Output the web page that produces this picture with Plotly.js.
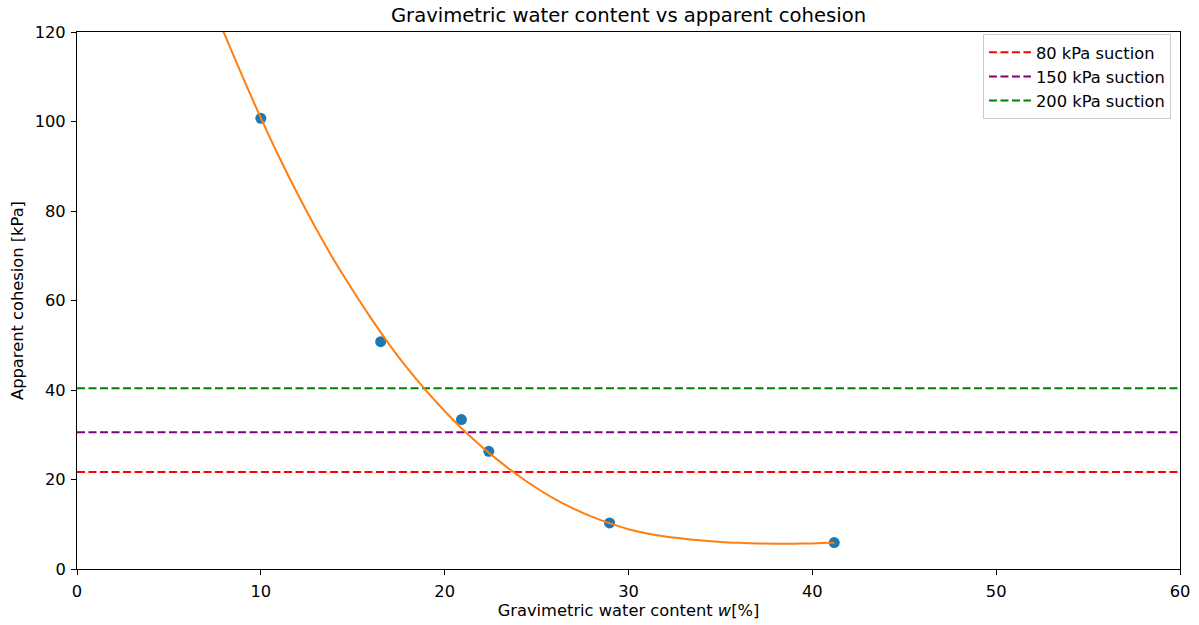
<!DOCTYPE html>
<html>
<head>
<meta charset="utf-8">
<script src="https://cdn.plot.ly/plotly-3.0.1.min.js"></script>
<style>html,body{margin:0;padding:0;background:#fff;}#chart{width:1199px;height:625px;}</style>
</head>
<body>
<div id="chart"></div>
<script>
// Measured points (water content %, apparent cohesion kPa)
const measX = [10.0, 16.52, 20.91, 22.40, 28.97, 41.19];
const measY = [100.7, 50.8, 33.4, 26.3, 10.3, 5.9];

// Fitted curve
const fitX = [7.9, 9, 10, 11, 12, 13, 14, 15, 16, 17, 18, 19, 20, 21, 22, 23, 24, 25, 26, 27, 28, 29, 30, 31, 32, 33, 34, 35, 36, 37, 38, 39, 40, 41, 41.2];
const fitY = [120.7, 110.1, 100.8, 92.0, 83.8, 76.1, 68.9, 62.3, 56.0, 50.1, 44.7, 39.8, 35.3, 31.1, 27.4, 24.0, 20.9, 18.1, 15.6, 13.5, 11.7, 10.2, 8.9, 7.95, 7.25, 6.75, 6.35, 6.05, 5.85, 5.72, 5.66, 5.66, 5.71, 5.84, 5.88];

// Suction reference levels
const suctionLabels = ['80 kPa suction', '150 kPa suction', '200 kPa suction'];
const suctionCohesion = [21.65, 30.58, 40.4];
const suctionColors = ['#ff0000', '#800080', '#008000'];
const xSpan = [0, 60];

const font = 'DejaVu Sans, sans-serif';
const fs = 16.3;

const traces = [];
traces.push({
  x: measX, y: measY, type: 'scatter', mode: 'markers',
  marker: {color: '#1f77b4', size: 11}, showlegend: false
});
suctionLabels.forEach((lab, i) => {
  traces.push({
    x: xSpan, y: [suctionCohesion[i], suctionCohesion[i]],
    type: 'scatter', mode: 'lines', name: lab,
    line: {color: suctionColors[i], width: 2, dash: '8px,3.5px'}
  });
});
traces.push({
  x: fitX, y: fitY, type: 'scatter', mode: 'lines',
  line: {color: '#ff7f0e', width: 2, shape: 'spline', smoothing: 1},
  showlegend: false
});

const axisCommon = {
  showline: true, linecolor: '#000', linewidth: 1, mirror: true,
  ticks: 'outside', ticklen: 5, tickwidth: 1, tickcolor: '#000',
  showgrid: false, zeroline: false,
  tickfont: {family: font, size: fs, color: '#000'}
};

const layout = {
  width: 1199, height: 625,
  paper_bgcolor: '#fff', plot_bgcolor: '#fff',
  margin: {l: 77, r: 19, t: 32, b: 56, pad: 0},
  font: {family: font, color: '#000'},
  title: {
    text: 'Gravimetric water content vs apparent cohesion',
    font: {family: font, size: 19.6, color: '#000'},
    x: 0.5, xref: 'paper', y: 1 - 15 / 625, yref: 'container', yanchor: 'middle'
  },
  xaxis: Object.assign({}, axisCommon, {
    range: [0, 60], dtick: 10, tick0: 0, ticklabelstandoff: 2,
    title: {text: 'Gravimetric water content <i>w</i>[%]', font: {family: font, size: fs, color: '#000'}, standoff: 4}
  }),
  yaxis: Object.assign({}, axisCommon, {
    range: [0, 120], dtick: 20, tick0: 0, ticklabelstandoff: 2,
    title: {text: 'Apparent cohesion [kPa]', font: {family: font, size: fs, color: '#000'}, standoff: 6}
  }),
  legend: {
    x: 0.9918, xanchor: 'right', y: 0.996, yanchor: 'top',
    bgcolor: 'rgba(255,255,255,0.8)', bordercolor: '#cccccc', borderwidth: 1,
    font: {family: font, size: fs, color: '#000'},
    itemwidth: 42
  },
  showlegend: true
};

Plotly.newPlot('chart', traces, layout, {displayModeBar: false, staticPlot: true});
</script>
</body>
</html>
